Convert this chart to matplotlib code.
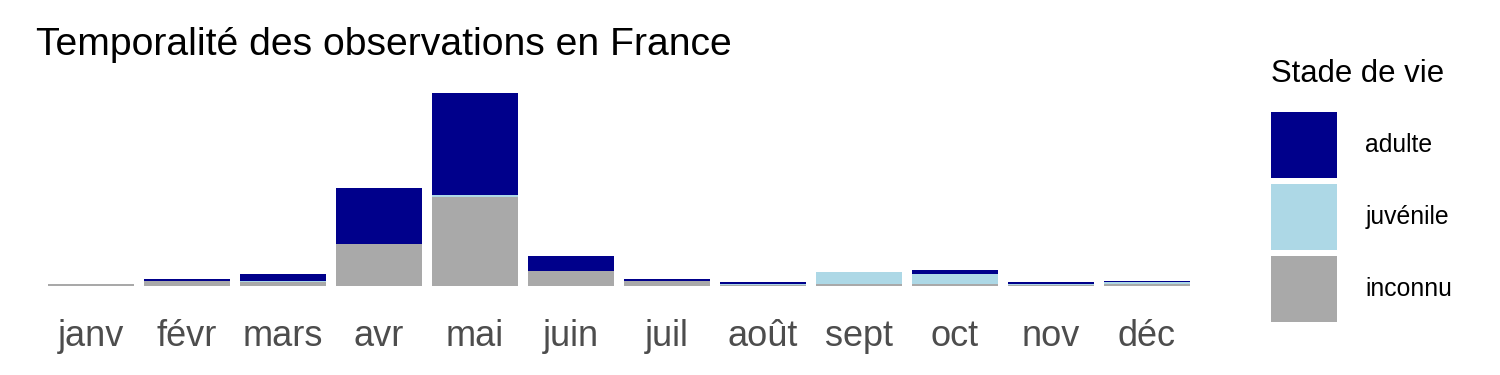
import matplotlib
matplotlib.use("Agg")
import matplotlib.pyplot as plt
import numpy as np

plt.rcParams['font.family'] = ['Liberation Sans', 'DejaVu Sans']

months = ["janv", "févr", "mars", "avr", "mai", "juin", "juil", "août", "sept", "oct", "nov", "déc"]
adulte = [0, 2, 7, 56, 102, 15, 2, 2, 0, 4, 2, 1]
juvenile = [0, 0.5, 1, 0, 1.7, 0.5, 0.5, 0.8, 12, 10, 0.8, 2.3]
inconnu = [1.7, 5, 4, 42, 89, 15, 5, 1.3, 2, 2, 1.3, 1.7]

col_adulte = "#00008B"
col_juv = "#ADD8E6"
col_inc = "#A9A9A9"

W, H = 1500, 375
fig = plt.figure(figsize=(15, 3.75), dpi=100)
ax = fig.add_axes([33.4 / W, 1 - 295.7 / H, (1204.6 - 33.4) / W, (295.7 - 83.4) / H])

x = np.arange(1, len(months) + 1)
inc = np.array(inconnu)
juv = np.array(juvenile)
adu = np.array(adulte)
b_inc = ax.bar(x, inc, width=0.9, color=col_inc, label="inconnu")
b_juv = ax.bar(x, juv, width=0.9, bottom=inc, color=col_juv, label="juvénile")
b_adu = ax.bar(x, adu, width=0.9, bottom=inc + juv, color=col_adulte, label="adulte")

tot = (inc + juv + adu).max()
ax.set_ylim(-0.05 * tot, 1.05 * tot)
ax.set_xlim(0.4, len(months) + 0.6)
ax.set_xticks(x)
ax.set_xticklabels(months, fontsize=26, color="#4D4D4D")
ax.set_yticks([])
ax.tick_params(axis='x', length=0, pad=16.5)
for s in ax.spines.values():
    s.set_visible(False)

fig.text(36 / W, 1 - 55 / H, "Temporalité des observations en France", fontsize=28.2,
         color="black", va="baseline", ha="left")

leg = fig.legend([b_adu, b_juv, b_inc], ["adulte", "juvénile", "inconnu"],
                 loc="upper left", bbox_to_anchor=(1271 / W, 1 - 59 / H),
                 frameon=False, fontsize=17.8, title="Stade de vie",
                 title_fontsize=22.4, handlelength=2.67, handleheight=3.73,
                 labelspacing=0.24, handletextpad=1.15, borderpad=0,
                 borderaxespad=0)
leg._legend_box.align = "left"
leg._legend_box.sep = 16.6

fig.savefig("out.png", dpi=100, facecolor="white")
